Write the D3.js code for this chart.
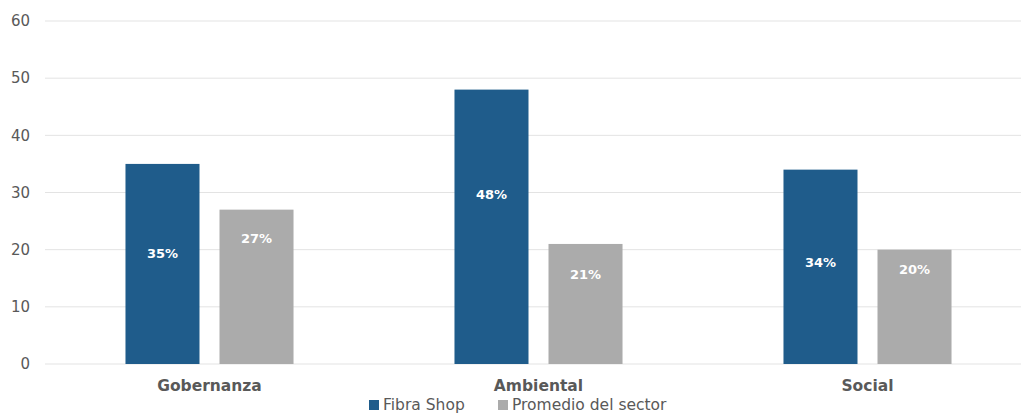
<!DOCTYPE html>
<html>
<head>
<meta charset="utf-8">
<script src="https://cdn.jsdelivr.net/npm/d3@7"></script>
<style>
  html, body { margin: 0; padding: 0; background: #fff; }
  svg text { font-family: "DejaVu Sans", Verdana, sans-serif; }
</style>
</head>
<body>
<svg id="chart" width="1021" height="413"></svg>
<script>
const categories = ['Gobernanza', 'Ambiental', 'Social'];
const seriesNames = ['Fibra Shop', 'Promedio del sector'];
const fibraShop = [35, 48, 34];
const promedioSector = [27, 21, 20];
// where the percent labels sit, in data units
const fibraLabelAt = [19.4, 29.6, 17.8];
const promedioLabelAt = [21.9, 15.6, 16.6];
const yTicks = [0, 10, 20, 30, 40, 50, 60];

const colors = ['#1f5c8b', '#ababab'];
const margin = { left: 45, right: -11, top: 21, bottom: 49 };
const width = 1021, height = 413;

const svg = d3.select('#chart');

const x = d3.scaleBand()
  .domain(categories)
  .range([margin.left, width - margin.right])
  .paddingInner(0).paddingOuter(0);

const xSeries = d3.scaleBand()
  .domain(seriesNames)
  .range([0, x.bandwidth()])
  .paddingInner(0.2128)
  .paddingOuter(0.856);

const y = d3.scaleLinear()
  .domain([0, 60])
  .range([height - margin.bottom, margin.top]);

// gridlines
svg.append('g').selectAll('line')
  .data(yTicks).enter().append('line')
  .attr('x1', margin.left).attr('x2', width)
  .attr('y1', d => y(d)).attr('y2', d => y(d))
  .attr('stroke', '#e3e3e3').attr('stroke-width', 1);

// y tick labels
svg.append('g').selectAll('text')
  .data(yTicks).enter().append('text')
  .attr('x', 30).attr('y', d => y(d))
  .attr('dy', '0.35em').attr('text-anchor', 'end')
  .attr('fill', '#595959').style('font-size', '15px')
  .text(d => d);

const rows = categories.map((c, i) => ({
  cat: c,
  vals: [
    { s: seriesNames[0], v: fibraShop[i], at: fibraLabelAt[i], k: 0 },
    { s: seriesNames[1], v: promedioSector[i], at: promedioLabelAt[i], k: 1 }
  ]
}));

const groups = svg.append('g').selectAll('g')
  .data(rows).enter().append('g')
  .attr('transform', d => `translate(${x(d.cat)},0)`);

groups.selectAll('rect')
  .data(d => d.vals).enter().append('rect')
  .attr('x', d => xSeries(d.s))
  .attr('width', xSeries.bandwidth())
  .attr('y', d => y(d.v))
  .attr('height', d => y(0) - y(d.v))
  .attr('fill', d => colors[d.k]);

groups.selectAll('text.label')
  .data(d => d.vals).enter().append('text')
  .attr('class', 'label')
  .attr('x', d => xSeries(d.s) + xSeries.bandwidth() / 2)
  .attr('y', d => y(d.at))
  .attr('dy', '0.35em').attr('text-anchor', 'middle')
  .attr('fill', '#fff').style('font-size', '13px').style('font-weight', 'bold')
  .text(d => d.v + '%');

// category labels
svg.append('g').selectAll('text')
  .data(categories).enter().append('text')
  .attr('x', d => x(d) + x.bandwidth() / 2)
  .attr('y', y(0) + 27)
  .attr('text-anchor', 'middle')
  .attr('fill', '#595959').style('font-size', '15.5px').style('font-weight', 'bold')
  .text(d => d);

// legend
const legendX = [369, 498];
const legend = svg.append('g').selectAll('g')
  .data(seriesNames).enter().append('g')
  .attr('transform', (d, i) => `translate(${legendX[i]},${height - 13})`);
legend.append('rect')
  .attr('x', 0).attr('y', 0).attr('width', 10).attr('height', 10)
  .attr('fill', (d, i) => colors[i]);
legend.append('text')
  .attr('x', 14).attr('y', 5).attr('dy', '0.35em')
  .attr('fill', '#595959').style('font-size', '15.5px')
  .text(d => d);
</script>
</body>
</html>
